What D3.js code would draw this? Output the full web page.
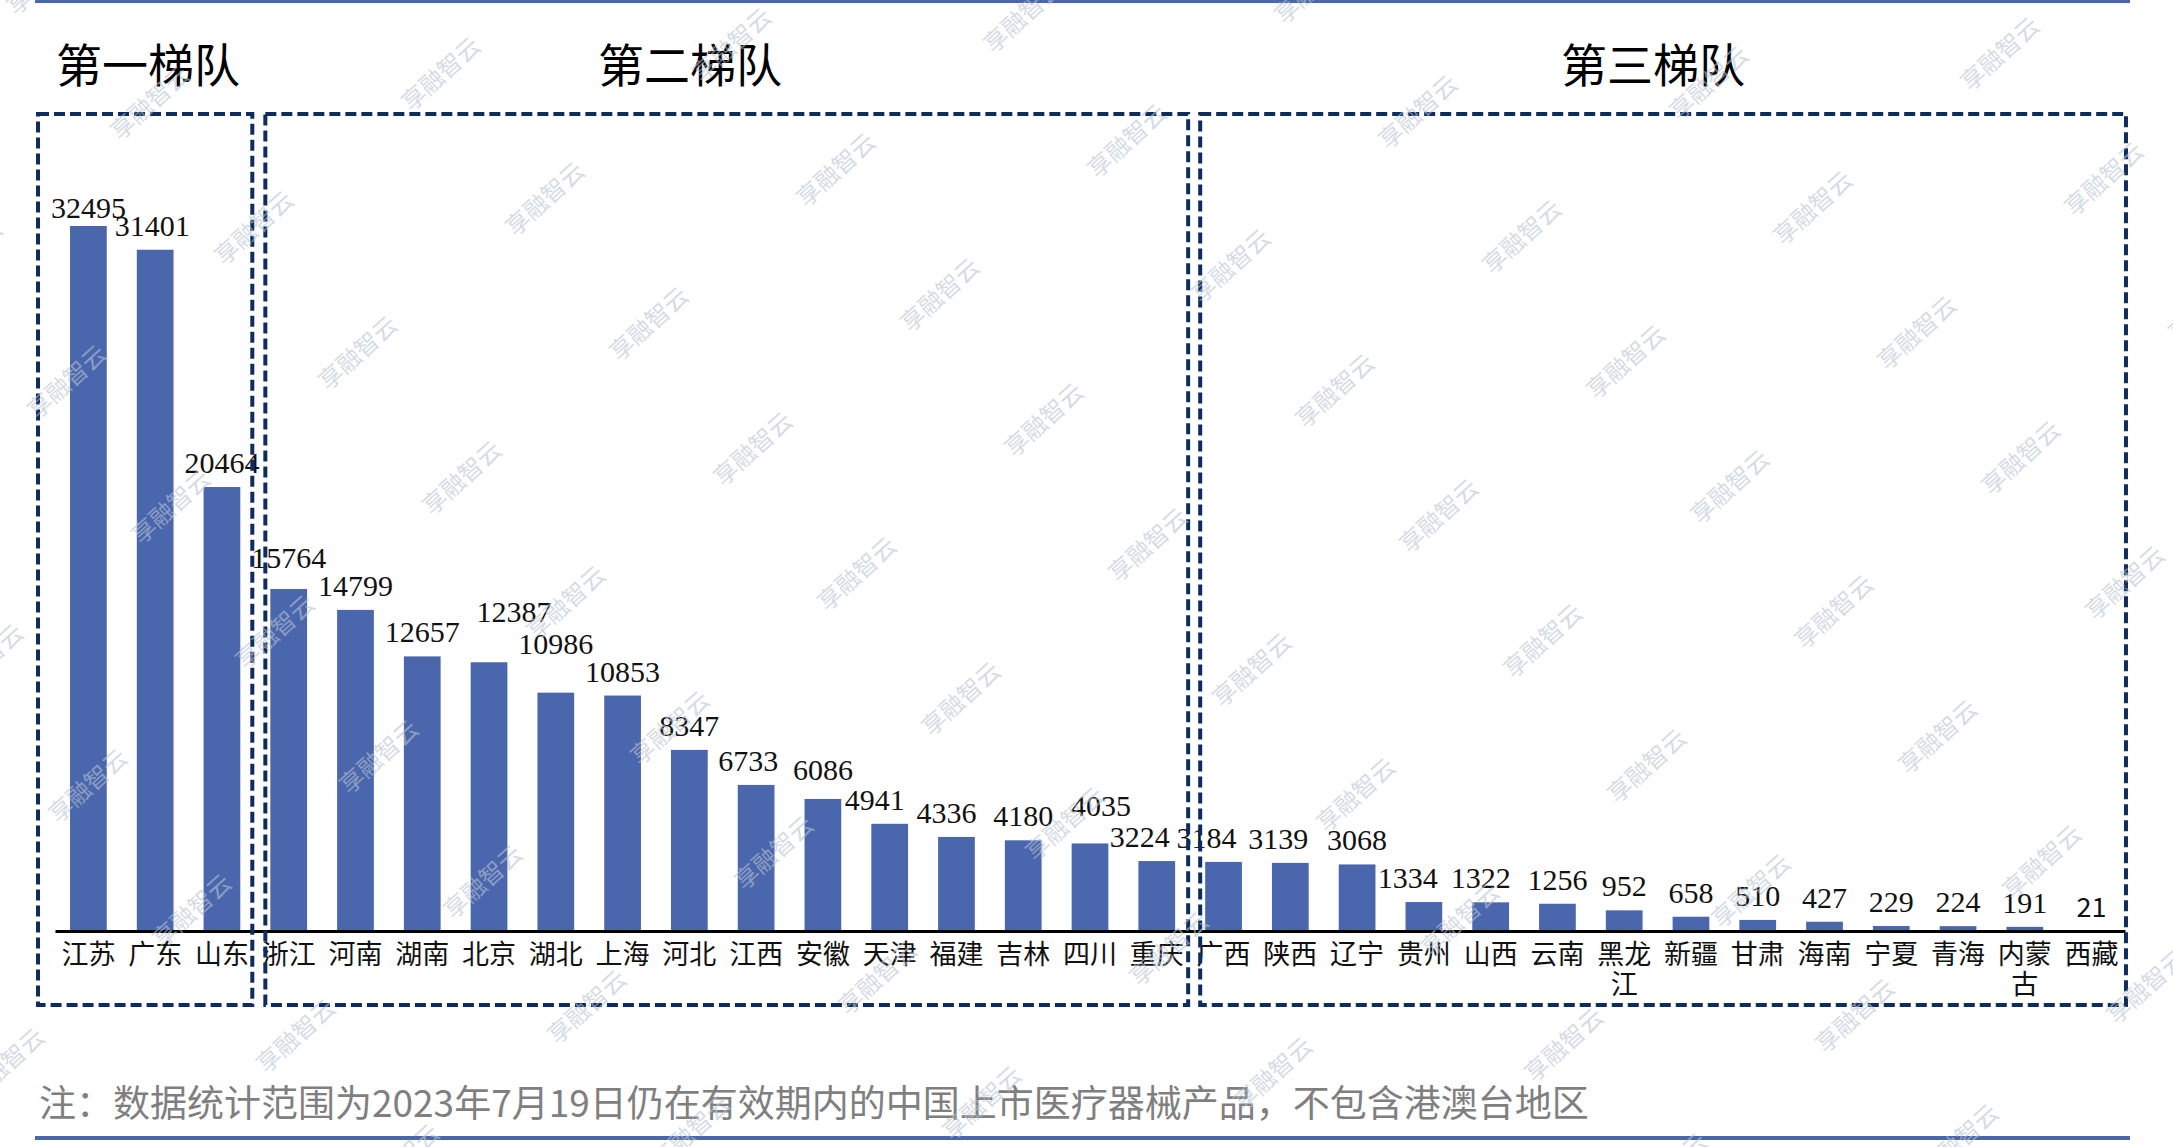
<!DOCTYPE html>
<html>
<head>
<meta charset="utf-8">
<script src="https://cdn.jsdelivr.net/npm/d3@7/dist/d3.min.js"></script>
<style>
body { margin: 0; background: #fff; }
svg { display: block; }
</style>
</head>
<body>
<svg id="chart"></svg>
<script>
const canvasWidth = 2173,
    canvasHeight = 1147

const provinces = ['江苏', '广东', '山东', '浙江', '河南', '湖南', '北京', '湖北', '上海', '河北',
    '江西', '安徽', '天津', '福建', '吉林', '四川', '重庆', '广西', '陕西', '辽宁', '贵州',
    '山西', '云南', '黑龙江', '新疆', '甘肃', '海南', '宁夏', '青海', '内蒙古', '西藏']
const counts = [32495, 31401, 20464, 15764, 14799, 12657, 12387, 10986, 10853, 8347,
    6733, 6086, 4941, 4336, 4180, 4035, 3224, 3184, 3139, 3068, 1334,
    1322, 1256, 952, 658, 510, 427, 229, 224, 191, 21]
const tierNames = ['第一梯队', '第二梯队', '第三梯队']
const tierSizes = [3, 14, 14]
const note = '注：数据统计范围为2023年7月19日仍在有效期内的中国上市医疗器械产品，不包含港澳台地区'

// hand-placed label shifts in the original, [dx, dy]
const labelNudge = {
    '江苏': [0, 6], '广东': [-3, 0], '浙江': [0, -7], '北京': [25, -26], '湖北': [0, -25],
    '江西': [-8, 0], '安徽': [0, -5], '天津': [-15, 0], '福建': [-10, 0], '四川': [11, -13],
    '重庆': [-17, 0], '广西': [-17, 0], '陕西': [-12, 0], '贵州': [-16, 0], '山西': [-10, 0]
}

const barColor = '#4a66ac',
    boxColor = '#0f2c5e',
    cjk = '"Noto Sans CJK SC", "Noto Sans", sans-serif',
    serif = '"Liberation Serif", "DejaVu Serif", serif'

const baseY = 931,
    topY = 226,
    boxTop = 114,
    boxBottom = 1005

const rows = provinces.map((p, i) => ({ name: p, value: counts[i] }))

const svg = d3.select('#chart')
    .attr('width', canvasWidth)
    .attr('height', canvasHeight)

const x = d3.scaleBand()
    .domain(provinces)
    .range([55, 2125])
    .paddingInner(0.45)
    .paddingOuter(0.225)

const y = d3.scaleLinear()
    .domain([0, d3.max(counts)])
    .range([baseY, topY])

// frame lines top and bottom
svg.append('line')
    .attr('x1', 35).attr('x2', 2130)
    .attr('y1', 1.5).attr('y2', 1.5)
    .attr('stroke', barColor).attr('stroke-width', 3)
svg.append('line')
    .attr('x1', 35).attr('x2', 2130)
    .attr('y1', 1138).attr('y2', 1138)
    .attr('stroke', barColor).attr('stroke-width', 4)

// bars
svg.append('g')
    .selectAll('rect')
    .data(rows)
    .enter().append('rect')
    .attr('x', d => x(d.name))
    .attr('width', x.bandwidth())
    .attr('y', d => y(d.value))
    .attr('height', d => baseY - y(d.value))
    .attr('fill', barColor)

// x axis
const axis = svg.append('g')
    .attr('transform', `translate(0, ${baseY})`)
    .call(d3.axisBottom(x).tickSize(0).tickSizeOuter(0))

axis.select('.domain')
    .attr('stroke', '#000')
    .attr('stroke-width', 3)

axis.selectAll('.tick text')
    .attr('y', 0)
    .attr('dy', null)
    .style('font-family', cjk)
    .style('font-size', '27px')
    .attr('fill', '#111')
    .each(function(d) {
        const t = d3.select(this)
        const lines = d.length > 2 ? [d.slice(0, 2), d.slice(2)] : [d]
        t.text(null)
        lines.forEach((s, i) => {
            t.append('tspan')
                .attr('x', 0)
                .attr('y', 33 + i * 30)
                .text(s)
        })
    })

// value labels
svg.append('g')
    .selectAll('text')
    .data(rows)
    .enter().append('text')
    .attr('text-anchor', 'middle')
    .attr('x', d => x(d.name) + x.bandwidth() / 2 + (labelNudge[d.name] ? labelNudge[d.name][0] : 0))
    .attr('y', d => y(d.value) - 14 + (labelNudge[d.name] ? labelNudge[d.name][1] : 0))
    .style('font-family', d => d.value < 100 ? cjk : serif)
    .style('font-size', d => d.value < 100 ? '27px' : '30px')
    .attr('fill', '#111')
    .text(d => d.value)

// tier boxes
const padL = [32, 5, 5],
    padR = [12, 13, 16],
    titleX = [148, 690, 1653]

let start = 0
const tiers = tierSizes.map((n, i) => {
    const first = provinces[start],
        last = provinces[start + n - 1]
    start += n
    return {
        name: tierNames[i],
        x0: x(first) - padL[i],
        x1: x(last) + x.bandwidth() + padR[i],
        tx: titleX[i]
    }
})

svg.append('g')
    .selectAll('rect')
    .data(tiers)
    .enter().append('rect')
    .attr('x', d => d.x0)
    .attr('y', boxTop)
    .attr('width', d => d.x1 - d.x0)
    .attr('height', boxBottom - boxTop)
    .attr('fill', 'none')
    .attr('stroke', boxColor)
    .attr('stroke-width', 4)
    .attr('stroke-dasharray', '11,5')

svg.append('g')
    .selectAll('text')
    .data(tiers)
    .enter().append('text')
    .attr('x', d => d.tx)
    .attr('y', 82)
    .attr('text-anchor', 'middle')
    .style('font-family', cjk)
    .style('font-size', '46px')
    .attr('fill', '#000')
    .text(d => d.name)

// note
svg.append('text')
    .attr('x', 39)
    .attr('y', 1117)
    .style('font-family', cjk)
    .style('font-size', '37px')
    .attr('fill', '#7f7f7f')
    .text(note)

// watermark lattice
const marks = []
for (let i = -4; i <= 10; i++) {
    for (let j = -6; j <= 10; j++) {
        const mx = 358 + i * 291 + j * 104,
            my = 353 - i * 29 + j * 125
        if (mx > -80 && mx < canvasWidth + 80 && my > -80 && my < canvasHeight + 80) marks.push([mx, my])
    }
}
svg.append('g')
    .attr('pointer-events', 'none')
    .selectAll('text')
    .data(marks)
    .enter().append('text')
    .attr('transform', d => `translate(${d[0]}, ${d[1]}) rotate(-42)`)
    .attr('text-anchor', 'middle')
    .attr('dy', '0.35em')
    .style('font-family', cjk)
    .style('font-size', '24px')
    .attr('fill', '#b9c4d3')
    .attr('fill-opacity', 0.6)
    .text('享融智云')
</script>
</body>
</html>
